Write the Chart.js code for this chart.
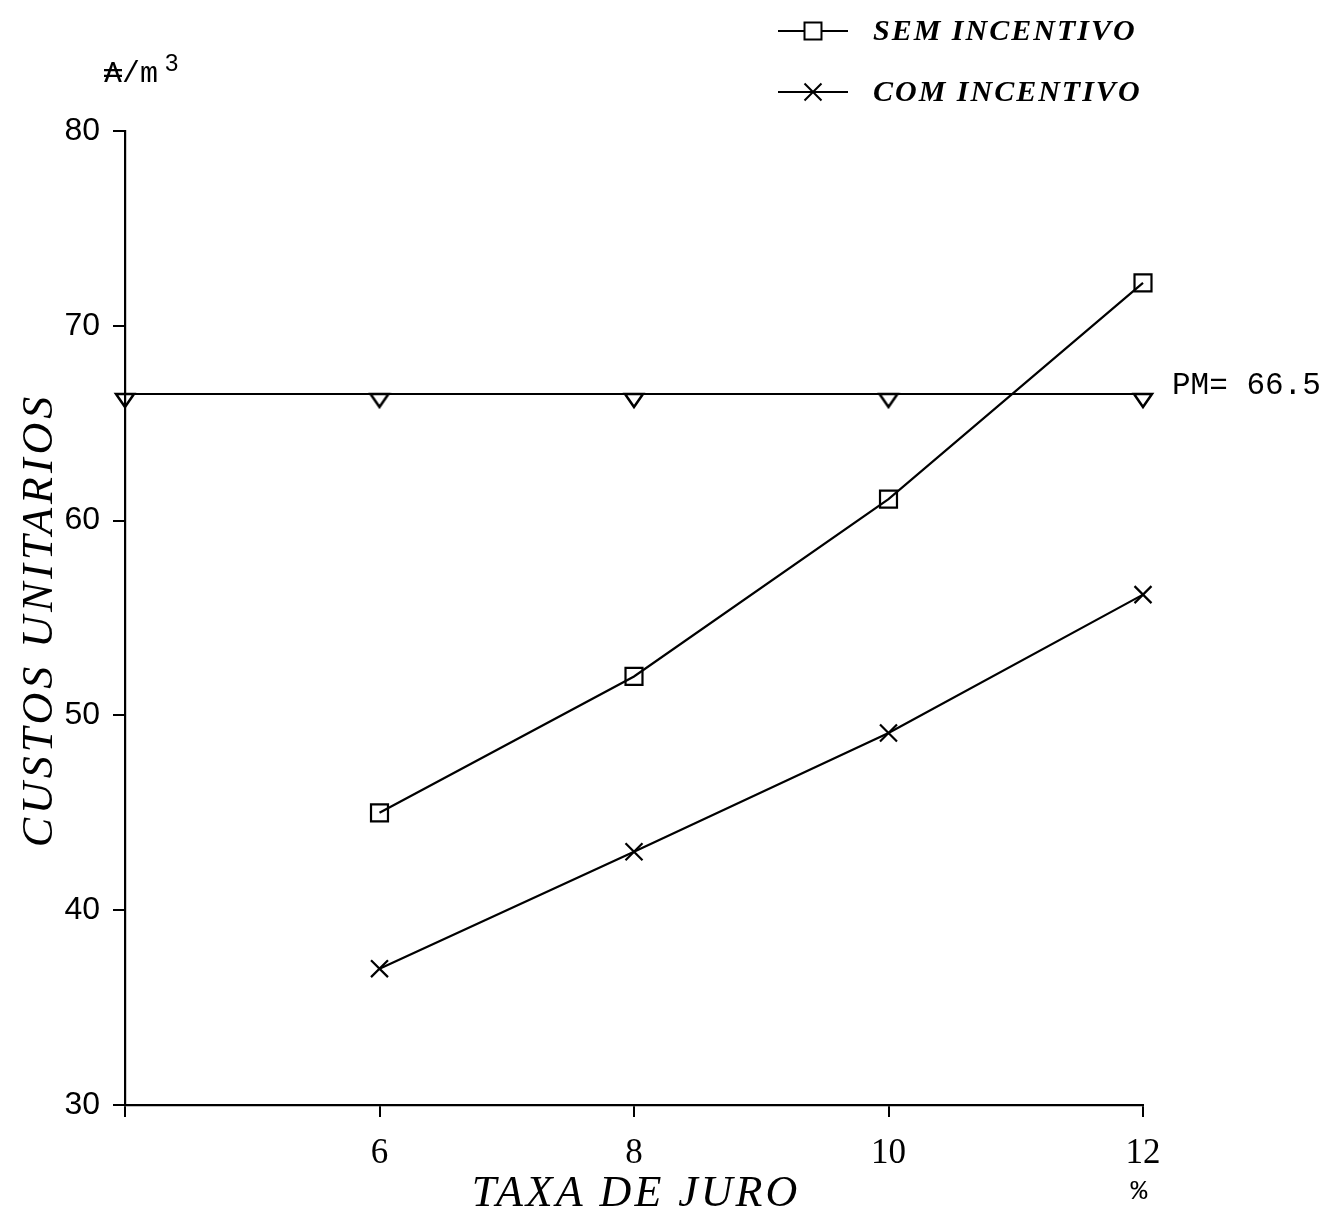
<!DOCTYPE html>
<html>
<head>
<meta charset="utf-8">
<script src="https://cdn.jsdelivr.net/npm/chart.js@4.4.1/dist/chart.umd.min.js"></script>
<style>
  body { margin: 0; background: #fff; }
  canvas { display: block; }
</style>
</head>
<body>
<canvas id="custosCanvas" width="1329" height="1218"></canvas>
<script>
// taxa de juro (%) e custos unitarios
const taxas = [6, 8, 10, 12];
const semIncentivo = [45, 52, 61.1, 72.2];
const comIncentivo = [37, 43, 49.1, 56.2];
const pmTaxas = [4, 6, 8, 10, 12];
const pmValores = [66.5, 66.5, 66.5, 66.5, 66.5];
const xTickLabels = ['', '6', '8', '10', '12'];
const yTickLabels = ['30', '40', '50', '60', '70', '80'];
const serieNomes = ['SEM INCENTIVO', 'COM INCENTIVO'];

const toPoints = (xs, ys) => xs.map((x, i) => ({ x: x, y: ys[i] }));

// triangulo para baixo, desenhado abaixo do ponto (como no original)
let triMarker = document.createElement('canvas');
triMarker.width = 24;
triMarker.height = 32;
let tctx = triMarker.getContext('2d');
tctx.strokeStyle = '#000';
tctx.lineWidth = 2.5;
tctx.beginPath();
tctx.moveTo(3, 16);
tctx.lineTo(21, 16);
tctx.lineTo(12, 29);
tctx.closePath();
tctx.stroke();

let textos = {
    id: 'textos',
    afterDraw: function (chart) {
        let ctx = chart.ctx;
        ctx.save();
        ctx.fillStyle = '#000';

        // legenda
        let itens = [
            { nome: serieNomes[0], y: 31, ds: 0 },
            { nome: serieNomes[1], y: 92, ds: 1 }
        ];
        itens.forEach(function (it) {
            let ds = chart.data.datasets[it.ds];
            ctx.strokeStyle = '#000';
            ctx.lineWidth = 2;
            ctx.beginPath();
            ctx.moveTo(778, it.y);
            ctx.lineTo(848, it.y);
            ctx.stroke();
            ctx.fillStyle = '#fff';
            Chart.helpers.drawPoint(ctx, {
                pointStyle: ds.pointStyle,
                radius: ds.pointRadius,
                borderWidth: 2,
                rotation: 0
            }, 813, it.y);
            ctx.fillStyle = '#000';
            ctx.font = 'italic bold 30px "Liberation Serif"';
            ctx.letterSpacing = '2px';
            ctx.textAlign = 'left';
            ctx.textBaseline = 'middle';
            ctx.fillText(it.nome, 873, it.y + 1);
        });
        ctx.letterSpacing = '0px';

        // unidade
        ctx.font = '30px "Liberation Mono", "DejaVu Sans Mono", "DejaVu Sans"';
        ctx.textAlign = 'left';
        ctx.textBaseline = 'alphabetic';
        ctx.fillText('\u20B3/m', 104, 82);
        ctx.font = '24px "Liberation Sans"';
        ctx.fillText('3', 165, 71);

        // rotulo do preco medio
        let yPM = chart.scales.y.getPixelForValue(pmValores[pmValores.length - 1]);
        ctx.font = '31px "Liberation Mono"';
        ctx.textBaseline = 'middle';
        ctx.fillText('PM= ' + pmValores[0].toFixed(1), 1172, yPM - 8);

        // titulos dos eixos
        ctx.font = 'italic 44px "Liberation Serif"';
        ctx.letterSpacing = '3px';
        ctx.textAlign = 'center';
        ctx.textBaseline = 'middle';
        ctx.fillText('TAXA DE JURO', 636, 1194);
        ctx.save();
        ctx.translate(40, 620);
        ctx.rotate(-Math.PI / 2);
        ctx.letterSpacing = '4px';
        ctx.fillText('CUSTOS UNITARIOS', 0, 0);
        ctx.restore();
        ctx.letterSpacing = '0px';

        ctx.font = '28px "Liberation Mono"';
        ctx.fillText('%', 1139, 1192);
        ctx.restore();
    }
};

window.onload = function () {
    let ctx = document.getElementById('custosCanvas').getContext('2d');

    window.custosChart = new Chart(ctx, {
        type: 'line',
        data: {
            datasets: [{
                label: serieNomes[0],
                data: toPoints(taxas, semIncentivo),
                borderColor: '#000',
                borderWidth: 2.2,
                pointStyle: 'rect',
                pointRadius: 12,
                pointBorderWidth: 2.2,
                pointBorderColor: '#000',
                pointBackgroundColor: 'rgba(0,0,0,0)',
                tension: 0,
                clip: false
            }, {
                label: serieNomes[1],
                data: toPoints(taxas, comIncentivo),
                borderColor: '#000',
                borderWidth: 2.2,
                pointStyle: 'crossRot',
                pointRadius: 12,
                pointBorderWidth: 2.2,
                pointBorderColor: '#000',
                tension: 0,
                clip: false
            }, {
                label: 'PM',
                data: toPoints(pmTaxas, pmValores),
                borderColor: '#000',
                borderWidth: 2.2,
                pointStyle: triMarker,
                pointRadius: 10,
                tension: 0,
                clip: false
            }]
        },
        plugins: [textos],
        options: {
            responsive: false,
            animation: false,
            layout: { padding: { top: 131, right: 186, left: 0, bottom: 0 } },
            plugins: {
                legend: { display: false },
                tooltip: { enabled: false }
            },
            scales: {
                x: {
                    type: 'linear',
                    min: 4,
                    max: 12,
                    afterFit: function (scale) { scale.height = 113; },
                    afterBuildTicks: function (scale) {
                        scale.ticks = pmTaxas.map(v => ({ value: v }));
                    },
                    ticks: {
                        callback: function (v, i) { return xTickLabels[i]; },
                        color: '#000',
                        padding: 16,
                        maxRotation: 0,
                        font: { family: 'Liberation Serif', size: 35 }
                    },
                    grid: { display: true, drawOnChartArea: false, drawTicks: true, tickLength: 12, color: '#000', lineWidth: 2 },
                    border: { display: true, color: '#000', width: 2.2 }
                },
                y: {
                    min: 30,
                    max: 80,
                    afterFit: function (scale) { scale.width = 125; },
                    afterBuildTicks: function (scale) {
                        scale.ticks = yTickLabels.map(v => ({ value: Number(v) }));
                    },
                    ticks: {
                        callback: function (v, i) { return yTickLabels[i]; },
                        color: '#000',
                        padding: 13,
                        font: { family: 'Liberation Sans', size: 32 }
                    },
                    grid: { display: true, drawOnChartArea: false, drawTicks: true, tickLength: 12, color: '#000', lineWidth: 2 },
                    border: { display: true, color: '#000', width: 2.2 }
                }
            }
        }
    });
};
</script>
</body>
</html>
